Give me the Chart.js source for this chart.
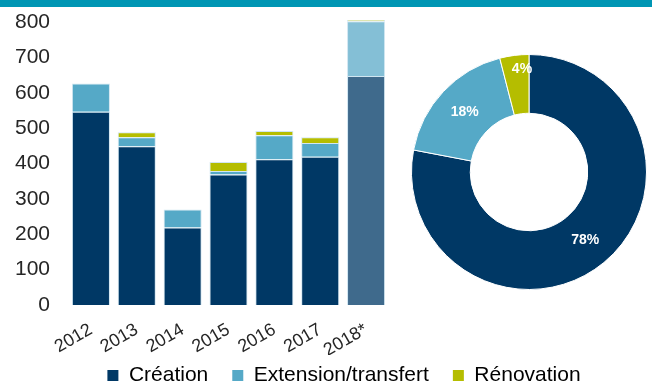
<!DOCTYPE html>
<html>
<head>
<meta charset="utf-8">
<script src="https://cdn.jsdelivr.net/npm/chart.js@4.4.0/dist/chart.umd.min.js"></script>
<style>
  html, body { margin: 0; padding: 0; background: #fff; overflow: hidden; }
  #band { position: absolute; left: 0; top: 0; width: 652px; height: 7px; background: #0096b4; z-index: 2; }
  #barWrap { position: absolute; left: 0; top: 0; width: 652px; height: 410px; }
  #donutWrap { position: absolute; left: 403px; top: 54px; width: 252px; height: 236px; }
</style>
</head>
<body>
<div id="band"></div>
<div id="barWrap"><canvas id="barChart"></canvas></div>
<div id="donutWrap"><canvas id="donutChart"></canvas></div>
<script>
// projects per year, by type (2018 is an estimate)
const years = ['2012', '2013', '2014', '2015', '2016', '2017', '2018*'];
const creation   = [546, 449, 219, 369, 412, 419, 647];
const extension  = [80, 25, 51, 10, 68, 39, 155];
const renovation = [0, 14, 0, 25, 12, 16, 4];

// share of each type, in %
const shareLabels = ['Création', 'Extension/transfert', 'Rénovation'];
const shares = [78, 18, 4];

const darkColors  = ['#003865', '#55a9c7', '#b5bd00'];
const lightColors = ['#3f6a8c', '#84bfd6', '#d4d86a'];
const estimated = years.map(y => y.endsWith('*'));

const FONT = '"Liberation Sans", Arial, sans-serif';
const TEXT = '#262626';

function shade(i) {
    return ctx => estimated[ctx.dataIndex] ? lightColors[i] : darkColors[i];
}

function makeSet(label, data, i) {
    return {
        label: label,
        data: data,
        backgroundColor: shade(i),
        borderColor: 'rgba(190, 220, 235, 0.7)',
        borderWidth: 1,
        barPercentage: 0.83,
        categoryPercentage: 1,
        clip: false
    };
}

// move the legend right of the canvas centre and tuck it up under the year labels
const legendShift = {
    id: 'legendShift',
    afterLayout(chart) {
        const lg = chart.legend;
        lg.left += 18;
        lg.right += 18;
        lg.top -= 14;
        lg.bottom -= 14;
    }
};

new Chart(document.getElementById('barChart'), {
    type: 'bar',
    data: {
        labels: years,
        datasets: [
            makeSet(shareLabels[0], creation, 0),
            makeSet(shareLabels[1], extension, 1),
            makeSet(shareLabels[2], renovation, 2)
        ]
    },
    options: {
        responsive: true,
        maintainAspectRatio: false,
        animation: false,
        layout: { padding: { top: 22, left: 0, right: 0, bottom: 0 } },
        plugins: {
            tooltip: { enabled: false },
            legend: {
                position: 'bottom',
                labels: {
                    boxWidth: 11,
                    boxHeight: 11,
                    padding: 24,
                    color: TEXT,
                    font: { family: FONT, size: 21 },
                    generateLabels: chart => chart.data.datasets.map((ds, i) => ({
                        text: ds.label,
                        fillStyle: darkColors[i],
                        strokeStyle: darkColors[i],
                        lineWidth: 0,
                        hidden: false,
                        datasetIndex: i
                    }))
                }
            }
        },
        scales: {
            x: {
                stacked: true,
                grid: { display: false },
                border: { display: false },
                ticks: {
                    autoSkip: false,
                    color: TEXT,
                    font: { family: FONT, size: 18 },
                    minRotation: 30,
                    maxRotation: 30,
                    padding: 6
                },
                afterFit: scale => { scale.height = 50; }
            },
            y: {
                stacked: true,
                min: 0,
                max: 800,
                grid: { display: false },
                border: { display: false },
                ticks: {
                    stepSize: 100,
                    color: TEXT,
                    font: { family: FONT, size: 21 },
                    padding: 10
                },
                afterFit: scale => {
                    scale.width = 68;
                    scale.paddingTop = 0;
                    scale.paddingBottom = 0;
                }
            },
            // empty axis that keeps the right side free for the doughnut
            y1: {
                position: 'right',
                grid: { display: false },
                border: { display: false },
                ticks: { display: false },
                afterFit: scale => { scale.width = 263; }
            }
        }
    },
    plugins: [legendShift]
});

// white percentage labels inside the ring
const labelDepth = [0.5, 0.5, 0.77];
const sliceLabels = {
    id: 'sliceLabels',
    afterDatasetsDraw(chart) {
        const ctx = chart.ctx;
        const meta = chart.getDatasetMeta(0);
        ctx.save();
        ctx.font = 'bold 14px ' + FONT;
        ctx.fillStyle = '#fff';
        ctx.textAlign = 'center';
        ctx.textBaseline = 'middle';
        meta.data.forEach((arc, i) => {
            const p = arc.getProps(['x', 'y', 'startAngle', 'endAngle', 'innerRadius', 'outerRadius'], true);
            const mid = (p.startAngle + p.endAngle) / 2;
            const r = p.innerRadius + (p.outerRadius - p.innerRadius) * labelDepth[i];
            // the narrow slice keeps its label a bit off the seam
            const dx = i === 2 ? 6 : 0;
            ctx.fillText(shares[i] + '%', p.x + Math.cos(mid) * r + dx, p.y + Math.sin(mid) * r);
        });
        ctx.restore();
    }
};

new Chart(document.getElementById('donutChart'), {
    type: 'doughnut',
    data: {
        labels: shareLabels,
        datasets: [{
            data: shares,
            backgroundColor: darkColors,
            borderColor: '#ffffff',
            borderWidth: 1
        }]
    },
    options: {
        responsive: true,
        maintainAspectRatio: false,
        animation: false,
        cutout: '50%',
        plugins: {
            legend: { display: false },
            tooltip: { enabled: false }
        }
    },
    plugins: [sliceLabels]
});
</script>
</body>
</html>
